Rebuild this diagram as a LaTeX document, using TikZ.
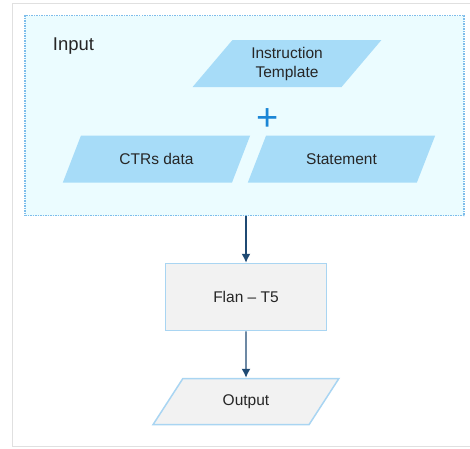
\documentclass[tikz,border=0pt]{standalone}
\usepackage{fontspec}
\setmainfont{Liberation Sans}
\usetikzlibrary{arrows.meta,shapes.geometric}

\definecolor{inbg}{HTML}{EBFCFF}
\definecolor{inline}{HTML}{7DBDEB}
\definecolor{para}{HTML}{A7DCF8}
\definecolor{grbox}{HTML}{F2F2F2}
\definecolor{grline}{HTML}{A9D5F2}
\definecolor{plus}{HTML}{1B86D6}
\definecolor{arr}{HTML}{1F4A73}

\tikzset{
	txt/.style={font=\fontsize{15.5}{19}\selectfont, align=center, text=black!85},
	para/.style={txt, trapezium, trapezium left angle=52, trapezium right angle=128,
		trapezium stretches=true, minimum width=189pt, minimum height=47pt, inner sep=0pt},
	flow/.style={draw=arr, line width=1.4pt, -{Latex[length=9pt,width=9pt]}}
}

\begin{document}
\begin{tikzpicture}[x=1pt,y=-1pt]
			\useasboundingbox (0,0) rectangle (470,448);
			\draw[black!12, line width=0.8pt] (12,3) rectangle (480,446);
			% input block
			\node[draw=inline, fill=inbg, densely dotted, line width=1.5pt,
				minimum width=439pt, minimum height=200pt] (input) at (244.5,115.5) {};
			\node[font=\fontsize{18.5}{21}\selectfont, text=black!85] (inlabel) at (73.5,46) {Input};
			\node[para, fill=para] (instr) at (287,63.5) {Instruction\\Template};
			\node[font=\fontsize{38}{38}\selectfont, text=plus] (add) at (268,120) {+};
			\node[para, fill=para] (ctrs) at (156.5,159) {CTRs data};
			\node[para, fill=para] (stmt) at (341.5,159) {Statement};
			% model and output
			\node[txt, draw=grline, fill=grbox, line width=1.5pt,
				minimum width=161pt, minimum height=67pt] (flan) at (246,297) {Flan -- T5};
			\node[para, draw=grline, fill=grbox, line width=1.5pt, minimum width=186pt,
				minimum height=46pt] (out) at (246,401.5) {Output};
			\path
			(input.south -| flan.north) edge[flow] (flan)
			(flan) edge[flow] (out);
		\end{tikzpicture}
\end{document}
